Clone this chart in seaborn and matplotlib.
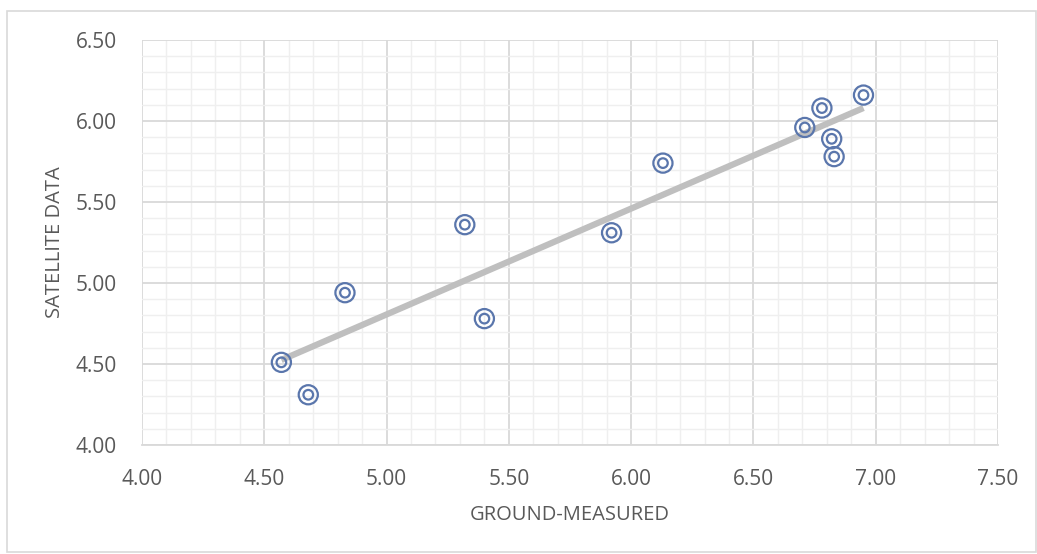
import numpy as np
import pandas as pd
import matplotlib
matplotlib.use("Agg")
import matplotlib.pyplot as plt
import seaborn as sns
from matplotlib.patches import Rectangle
from matplotlib.ticker import MultipleLocator, FormatStrFormatter

# ------------------------
# Data
# ------------------------
ground = [4.57, 4.68, 4.83, 5.32, 5.40, 5.92, 6.13, 6.71, 6.78, 6.82, 6.83, 6.95]
satellite = [4.51, 4.31, 4.94, 5.36, 4.78, 5.31, 5.74, 5.96, 6.08, 5.89, 5.78, 6.16]
df = pd.DataFrame({"GROUND-MEASURED": ground, "SATELLITE DATA": satellite})

marker_col = "#5a76ac"
text_col = "#595959"

sns.set_style("white")
plt.rcParams["font.family"] = ["Open Sans", "DejaVu Sans"]

fig = plt.figure(figsize=(10.37, 5.54), dpi=100)
ax = fig.add_axes([0.1369, 0.1968, 0.8255, 0.731])

# trend line
sns.regplot(data=df, x="GROUND-MEASURED", y="SATELLITE DATA", ax=ax, ci=None,
            scatter=False, truncate=True,
            line_kws={"color": "#bfbfbf", "lw": 4.5, "solid_capstyle": "butt", "zorder": 3})

# double-ring markers
sns.scatterplot(data=df, x="GROUND-MEASURED", y="SATELLITE DATA", ax=ax, s=190,
                facecolor="none", edgecolor=marker_col, linewidth=1.6, zorder=4)
sns.scatterplot(data=df, x="GROUND-MEASURED", y="SATELLITE DATA", ax=ax, s=48,
                facecolor="none", edgecolor=marker_col, linewidth=1.6, zorder=4)

ax.set_xlim(4.0, 7.5)
ax.set_ylim(4.0, 6.5)
ax.xaxis.set_major_locator(MultipleLocator(0.5))
ax.yaxis.set_major_locator(MultipleLocator(0.5))
ax.xaxis.set_minor_locator(MultipleLocator(0.1))
ax.yaxis.set_minor_locator(MultipleLocator(0.1))
ax.xaxis.set_major_formatter(FormatStrFormatter("%.2f"))
ax.yaxis.set_major_formatter(FormatStrFormatter("%.2f"))

ax.grid(which="major", color="#d9d9d9", lw=1.3, zorder=0)
ax.grid(which="minor", color="#efefef", lw=1.0, zorder=0)
ax.set_axisbelow(True)

for side in ["top", "right", "left"]:
    ax.spines[side].set_visible(False)
ax.spines["bottom"].set_color("#d9d9d9")
ax.spines["bottom"].set_linewidth(1.3)

ax.tick_params(axis="x", which="major", length=8, width=1.3, color="#d9d9d9",
               labelsize=15, labelcolor=text_col, pad=9)
ax.tick_params(axis="x", which="minor", length=0)
ax.tick_params(axis="y", which="both", length=0, labelsize=15, labelcolor=text_col, pad=18)

ax.set_xlabel("GROUND-MEASURED", fontsize=14.5, color=text_col, labelpad=11)
ax.set_ylabel("SATELLITE DATA", fontsize=14.5, color=text_col, labelpad=8)

# outer chart border
fig.patches.append(Rectangle((7 / 1037, 2 / 554), 1 - 8 / 1037, 1 - 13 / 554,
                             transform=fig.transFigure, fill=False,
                             edgecolor="#d9d9d9", lw=1.2))

plt.savefig("out.png", dpi=100)
